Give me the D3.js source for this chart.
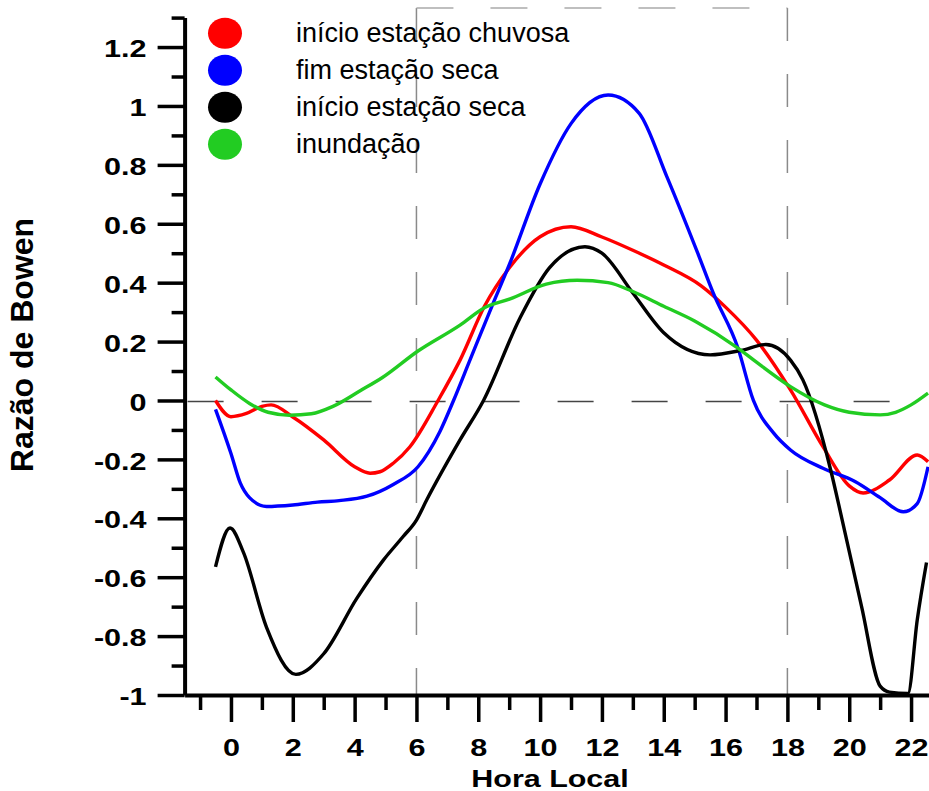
<!DOCTYPE html>
<html lang="pt">
<head>
<meta charset="UTF-8">
<title>Razão de Bowen</title>
<script src="https://d3js.org/d3.v7.min.js"></script>
<style>
    body { margin: 0; background: #fff; }
    svg { display: block; font-family: "Liberation Sans", Arial, sans-serif; }
</style>
</head>
<body>
<div id="chart"></div>
<script>
// series (hora local, razão de Bowen)
const redHours = [-0.5, 0, 0.5, 1, 1.3, 2, 3, 4, 4.5, 4.82, 5.25, 5.79, 6.7, 7.41, 8.2, 9, 10, 11, 12, 13, 14, 15.2, 16, 17, 18.1, 19.15, 20, 20.45, 21.3, 22.2, 22.55];
const redValues = [0, -0.055, -0.044, -0.02, -0.015, -0.056, -0.134, -0.225, -0.247, -0.242, -0.213, -0.157, 0, 0.137, 0.32, 0.45, 0.556, 0.59, 0.555, 0.51, 0.46, 0.39, 0.317, 0.205, 0.036, -0.157, -0.29, -0.314, -0.27, -0.185, -0.208];

const blueHours = [-0.5, 0, 0.3, 0.6, 1.15, 2, 2.8, 3.5, 4.4, 5.25, 6.05, 6.76, 7.2, 7.73, 8.48, 9, 10, 11, 12.2, 13.2, 14.1, 15.1, 15.6, 16.4, 16.9, 17.55, 18.1, 19.15, 20.2, 21, 21.75, 22.2, 22.55];
const blueValues = [-0.03, -0.18, -0.28, -0.33, -0.36, -0.355, -0.345, -0.34, -0.325, -0.285, -0.225, -0.105, 0, 0.137, 0.33, 0.46, 0.735, 0.94, 1.037, 0.976, 0.76, 0.5, 0.365, 0.178, 0, -0.11, -0.168, -0.23, -0.276, -0.33, -0.378, -0.35, -0.225];

const blackHours = [-0.5, -0.03, 0.4, 1.15, 2.1, 3, 4.07, 4.93, 5.57, 6, 6.33, 7.41, 8.17, 9.35, 10.3, 11.45, 12, 13, 14, 15.5, 16.5, 17.3, 18.1, 18.5, 19.4, 19.76, 20.4, 21, 21.3, 21.9, 22.2, 22.5];
const blackValues = [-0.565, -0.433, -0.515, -0.77, -0.93, -0.86, -0.672, -0.542, -0.462, -0.406, -0.338, -0.134, 0, 0.28, 0.45, 0.522, 0.5, 0.365, 0.23, 0.155, 0.17, 0.19, 0.137, 0.07, -0.236, -0.4, -0.7, -0.97, -0.99, -0.995, -0.745, -0.55];

const greenHours = [-0.5, 0, 0.6, 1.2, 1.9, 2.6, 3.3, 4.18, 4.9, 6.05, 7.41, 8.2, 9.03, 10.2, 11.2, 12.2, 13, 14, 15, 16.4, 17, 18.1, 19.2, 20, 21, 21.5, 22, 22.55];
const greenValues = [0.08, 0.036, -0.01, -0.04, -0.05, -0.045, -0.02, 0.033, 0.078, 0.168, 0.256, 0.315, 0.345, 0.395, 0.408, 0.4, 0.37, 0.32, 0.27, 0.178, 0.13, 0.047, -0.015, -0.04, -0.049, -0.04, -0.015, 0.025];

const seriesNames = ["início estação chuvosa", "fim estação seca", "início estação seca", "inundação"];
const seriesColors = ["#ff0000", "#0000ff", "#000000", "#22cc22"];

const xMajorTicks = [0, 2, 4, 6, 8, 10, 12, 14, 16, 18, 20, 22];
const xMinorTicks = [-1, 1, 3, 5, 7, 9, 11, 13, 15, 17, 19, 21];
const yMajorTicks = [-1, -0.8, -0.6, -0.4, -0.2, 0, 0.2, 0.4, 0.6, 0.8, 1, 1.2];
const yMinorTicks = [-0.9, -0.7, -0.5, -0.3, -0.1, 0.1, 0.3, 0.5, 0.7, 0.9, 1.1, 1.3];
const dayStart = 6, dayEnd = 18;

const width = 929, height = 791;

const svg = d3.select("#chart").append("svg")
    .attr("width", width)
    .attr("height", height);

const x = d3.scaleLinear().domain([-1.5, 22.6]).range([184.6, 929.6]);
const y = d3.scaleLinear().domain([-1, 1.3]).range([695, 17.6]);

// dashed reference lines
const refs = svg.append("g").attr("fill", "none");
refs.append("line")
    .attr("x1", x(-1.5) + 3).attr("x2", x(21.4))
    .attr("y1", y(0) + 1).attr("y2", y(0) + 1)
    .attr("stroke", "#444").attr("stroke-width", 1.5)
    .attr("stroke-dasharray", "36,38");
[dayStart, dayEnd].forEach(h => {
    refs.append("line")
        .attr("x1", x(h)).attr("x2", x(h))
        .attr("y1", y(1.333)).attr("y2", y(-1))
        .attr("stroke", "#8a8a8a").attr("stroke-width", 1.5)
        .attr("stroke-dasharray", "33,33");
});
refs.append("line")
    .attr("x1", x(dayStart)).attr("x2", x(dayEnd))
    .attr("y1", y(1.333)).attr("y2", y(1.333))
    .attr("stroke", "#aaa").attr("stroke-width", 1.5)
    .attr("stroke-dasharray", "37,37");

// curves
const line = d3.line()
    .x(d => x(d[0]))
    .y(d => y(d[1]))
    .curve(d3.curveMonotoneX);

const series = [
    d3.zip(redHours, redValues),
    d3.zip(blueHours, blueValues),
    d3.zip(blackHours, blackValues),
    d3.zip(greenHours, greenValues)
];

svg.append("g").selectAll("path")
    .data(series)
    .join("path")
    .attr("d", line)
    .attr("fill", "none")
    .attr("stroke", (d, i) => seriesColors[i])
    .attr("stroke-width", 3.4)
    .attr("stroke-linejoin", "round");

// axes
const xAxis = svg.append("g")
    .attr("transform", `translate(0,${y(-1)})`)
    .call(d3.axisBottom(x).tickValues(xMajorTicks).tickSize(27).tickSizeOuter(0).tickFormat(d => String(d)));
xAxis.append("g")
    .call(d3.axisBottom(x).tickValues(xMinorTicks).tickSize(15).tickSizeOuter(0).tickFormat(""))
    .select(".domain").remove();

const yAxis = svg.append("g")
    .attr("transform", `translate(${x(-1.5)},0)`)
    .call(d3.axisLeft(y).tickValues(yMajorTicks).tickSize(27).tickSizeOuter(0).tickFormat(d => String(+d.toFixed(1))));
yAxis.append("g")
    .call(d3.axisLeft(y).tickValues(yMinorTicks).tickSize(13).tickSizeOuter(0).tickFormat(""))
    .select(".domain").remove();

[xAxis, yAxis].forEach(a => {
    a.selectAll(".domain").attr("stroke", "#000").attr("stroke-width", 4);
    a.selectAll(".tick line").attr("stroke", "#000").attr("stroke-width", 3.5);
    a.selectAll("text")
        .attr("fill", "#000")
        .attr("font-size", 23)
        .attr("font-weight", "bold")
        .attr("font-family", "Liberation Sans, Arial, sans-serif");
});

xAxis.selectAll(".tick text")
    .attr("y", 61).attr("dy", null)
    .attr("transform", "scale(1.33,1)");
yAxis.selectAll(".tick text")
    .attr("x", -38 / 1.33).attr("dy", "0.42em")
    .attr("transform", "scale(1.33,1)");

// axis titles
svg.append("text")
    .attr("transform", "translate(550,787) scale(1.27,1)")
    .attr("text-anchor", "middle")
    .attr("font-size", 24)
    .attr("font-weight", "bold")
    .text("Hora Local");

svg.append("text")
    .attr("transform", "translate(33,345) rotate(-90)")
    .attr("text-anchor", "middle")
    .attr("font-size", 32)
    .attr("font-weight", "bold")
    .text("Razão de Bowen");

// legend
const legend = svg.append("g").selectAll("g")
    .data(seriesNames)
    .join("g")
    .attr("transform", (d, i) => `translate(225,${33.3 + i * 37})`);
legend.append("ellipse")
    .attr("rx", 17).attr("ry", 15.5)
    .attr("fill", (d, i) => seriesColors[i]);
legend.append("text")
    .attr("x", 71).attr("y", 8.5)
    .attr("font-size", 27)
    .attr("fill", "#000")
    .text(d => d);
</script>
</body>
</html>
